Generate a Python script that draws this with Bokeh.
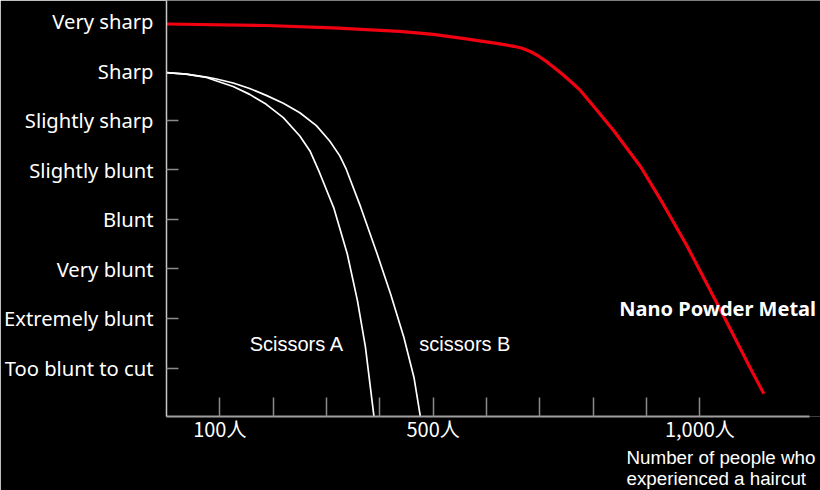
from bokeh.plotting import figure
from bokeh.models import Range1d, FixedTicker, Label, Title
from bokeh.embed import file_html
from bokeh.resources import INLINE

# ---- data ----
levels = ["Too blunt to cut", "Extremely blunt", "Very blunt", "Blunt",
          "Slightly blunt", "Slightly sharp", "Sharp", "Very sharp"]
level_values = [0, 1, 2, 3, 4, 5, 6, 7]
level_tick_values = [0, 1, 2, 3, 4, 5]

x_tick_values = [100, 200, 300, 400, 500, 600, 700, 800, 900, 1000]
x_tick_labels = {100: "100人", 500: "500人", 1000: "1,000人"}

nano_x = [0, 187, 312, 437, 500, 562, 625, 651, 667, 683, 698, 714, 729, 745, 761, 776, 807, 839,
          889, 930, 976, 1015, 1047, 1094, 1120]
nano_y = [6.94, 6.91, 6.86, 6.79, 6.73, 6.64, 6.54, 6.49, 6.45, 6.38, 6.29, 6.17, 6.04, 5.90, 5.75, 5.60, 5.20, 4.78,
          4.06, 3.33, 2.46, 1.66, 1.00, 0.01, -0.52]

sa_x = [0, 37, 75, 94, 125, 156, 187, 219, 250, 269, 287, 314, 339, 358, 373, 389]
sa_y = [5.96, 5.93, 5.86, 5.79, 5.68, 5.52, 5.32, 5.05, 4.68, 4.38, 3.94, 3.22, 2.30, 1.36, 0.42, -0.98]

sb_x = [0, 37, 75, 94, 125, 156, 187, 219, 250, 281, 306, 325, 337, 364, 395, 420, 445, 464, 476]
sb_y = [5.96, 5.93, 5.87, 5.83, 5.75, 5.64, 5.50, 5.34, 5.15, 4.89, 4.58, 4.28, 4.01, 3.25, 2.30, 1.50, 0.62, -0.19, -0.98]

series_names = ["Scissors A", "scissors B", "Nano Powder Metal"]
axis_title = "Number of people who\nexperienced a haircut"

X_AXIS_END = 1205.6

# ---- figure ----
p = figure(width=820, height=490, output_backend="svg", toolbar_location=None,
           x_range=Range1d(0, 1226.2), y_range=Range1d(-0.978, 7.414),
           min_border_left=166, min_border_right=0, min_border_top=0, min_border_bottom=74)
p.background_fill_color = "black"
p.border_fill_color = "black"
p.outline_line_color = None
p.xgrid.visible = False
p.ygrid.visible = False

# x axis
xa = p.xaxis[0]
xa.bounds = (0, X_AXIS_END)
xa.ticker = FixedTicker(ticks=x_tick_values)
xa.major_label_overrides = {v: x_tick_labels.get(v, "") for v in x_tick_values}
xa.major_tick_in = 19
xa.major_tick_out = 0
xa.minor_tick_line_color = None
xa.major_tick_line_color = "#8a8a8a"
xa.major_tick_line_width = 1.5
xa.axis_line_color = "#a0a0a0"
xa.axis_line_width = 2
xa.major_label_text_color = "white"
xa.major_label_text_font = "Noto Sans CJK JP"
xa.major_label_text_font_size = "20px"
xa.major_label_standoff = -3

# axis title as a left-aligned two-line title under the axis
p.add_layout(Title(text=axis_title, align="left", offset=460, standoff=0,
                   text_color="white", text_font="Liberation Sans",
                   text_font_size="18.8px", text_font_style="normal",
                   text_line_height=1.02), "below")

# y axis
ya = p.yaxis[0]
ya.ticker = FixedTicker(ticks=level_values, minor_ticks=level_tick_values)
ya.major_label_overrides = {v: lab for v, lab in zip(level_values, levels)}
ya.major_tick_in = 0
ya.major_tick_out = 0
ya.minor_tick_in = 12
ya.minor_tick_out = 0
ya.minor_tick_line_color = "#8a8a8a"
ya.minor_tick_line_width = 1.5
ya.axis_line_color = "#c8c8c8"
ya.axis_line_width = 1.5
ya.major_label_text_color = "white"
ya.major_label_text_font = "Noto Sans"
ya.major_label_text_font_size = "20.2px"
ya.major_label_standoff = 13

# curves
p.line(sa_x, sa_y, line_color="white", line_width=1.7, line_join="round")
p.line(sb_x, sb_y, line_color="white", line_width=1.7, line_join="round")
p.line(nano_x, nano_y, line_color="#f00010", line_width=3.2, line_join="round")

# series labels
p.add_layout(Label(x=156, y=0.49, text=series_names[0], text_color="white",
                   text_font="Liberation Sans", text_font_size="20px", text_baseline="middle"))
p.add_layout(Label(x=474, y=0.49, text=series_names[1], text_color="white",
                   text_font="Liberation Sans", text_font_size="20px", text_baseline="middle"))
p.add_layout(Label(x=849, y=1.20, text=series_names[2], text_color="white",
                   text_font="Noto Sans", text_font_size="20px", text_font_style="bold",
                   text_baseline="middle"))

open("out.html", "w").write(file_html(p, INLINE))
